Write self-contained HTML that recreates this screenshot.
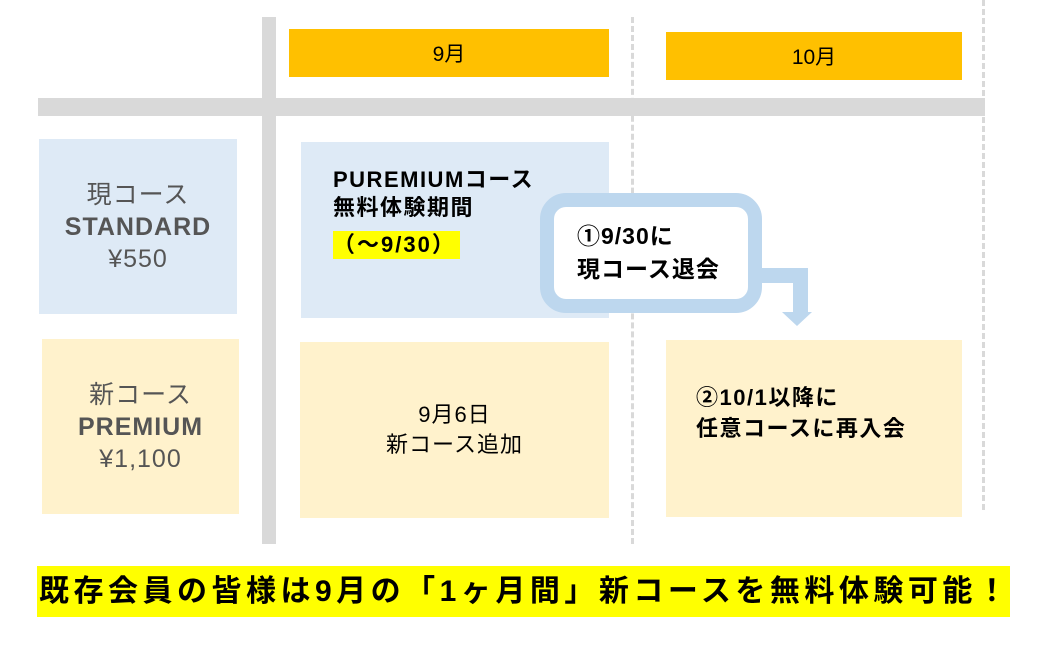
<!DOCTYPE html>
<html><head><meta charset="utf-8"><style>
body{margin:0;width:1043px;height:648px;background:#fff;position:relative;overflow:hidden;font-family:"Liberation Sans","Noto Sans CJK JP",sans-serif}
div{position:absolute;box-sizing:border-box}
.c{display:flex;flex-direction:column;align-items:center;justify-content:center;text-align:center}
.b{background:#deeaf6}.y{background:#fff2cc}
.g{font-size:25px;color:#555;line-height:32px;letter-spacing:1px}
.dash{width:0;border-left:3px dashed #d9d9d9}
</style></head><body>
<div style="left:262px;top:17px;width:14px;height:527px;background:#d9d9d9"></div>
<div style="left:38px;top:98px;width:947px;height:18px;background:#d9d9d9"></div>
<div class="dash" style="left:631px;top:17px;height:527px"></div>
<div class="dash" style="left:982px;top:0;height:510px"></div>
<div class="c" style="left:289px;top:29px;width:320px;height:48px;background:#ffc000;font-size:21px">9月</div>
<div class="c" style="left:666px;top:32px;width:296px;height:48px;background:#ffc000;font-size:21px">10月</div>
<div class="c b g" style="left:39px;top:139px;width:198px;height:175px">現コース<b>STANDARD</b>¥550</div>
<div class="c y g" style="left:42px;top:339px;width:197px;height:175px">新コース<b>PREMIUM</b>¥1,100</div>
<div class="b" style="left:301px;top:142px;width:308px;height:176px"></div>
<div style="left:333px;top:166px;font-size:22px;font-weight:bold;line-height:28px;letter-spacing:1.5px">PUREMIUMコース<br>無料体験期間</div>
<div style="left:333px;top:231px;background:#ffff00;font-size:22px;font-weight:bold;line-height:28px;padding:0 4px 0 0;letter-spacing:2px">（〜9/30）</div>
<div class="c y" style="left:300px;top:342px;width:309px;height:176px;font-size:22px;line-height:30px;letter-spacing:1px">9月6日<br>新コース追加</div>
<div class="y" style="left:666px;top:340px;width:296px;height:177px"></div>
<div style="left:696px;top:382px;font-size:22px;font-weight:bold;line-height:31px;letter-spacing:1.5px">②10/1以降に<br>任意コースに再入会</div>
<div style="left:760px;top:268px;width:48px;height:15px;background:#bdd7ee"></div>
<div style="left:793px;top:268px;width:15px;height:45px;background:#bdd7ee"></div>
<div style="left:782px;top:312px;width:0;height:0;border-left:15px solid transparent;border-right:15px solid transparent;border-top:14px solid #bdd7ee"></div>
<div style="left:540px;top:193px;width:222px;height:120px;border:14px solid #bdd7ee;border-radius:26px;background:#fff"></div>
<div style="left:577px;top:220px;font-size:23px;font-weight:bold;line-height:33px;letter-spacing:1px">①9/30に<br>現コース退会</div>
<div style="left:37px;top:566px;width:973px;height:51px;background:#ffff00;font-size:30px;font-weight:bold;line-height:51px;padding-left:2px;white-space:nowrap;letter-spacing:4.5px">既存会員の皆様は9月の「1ヶ月間」新コースを無料体験可能！</div>
</body></html>
